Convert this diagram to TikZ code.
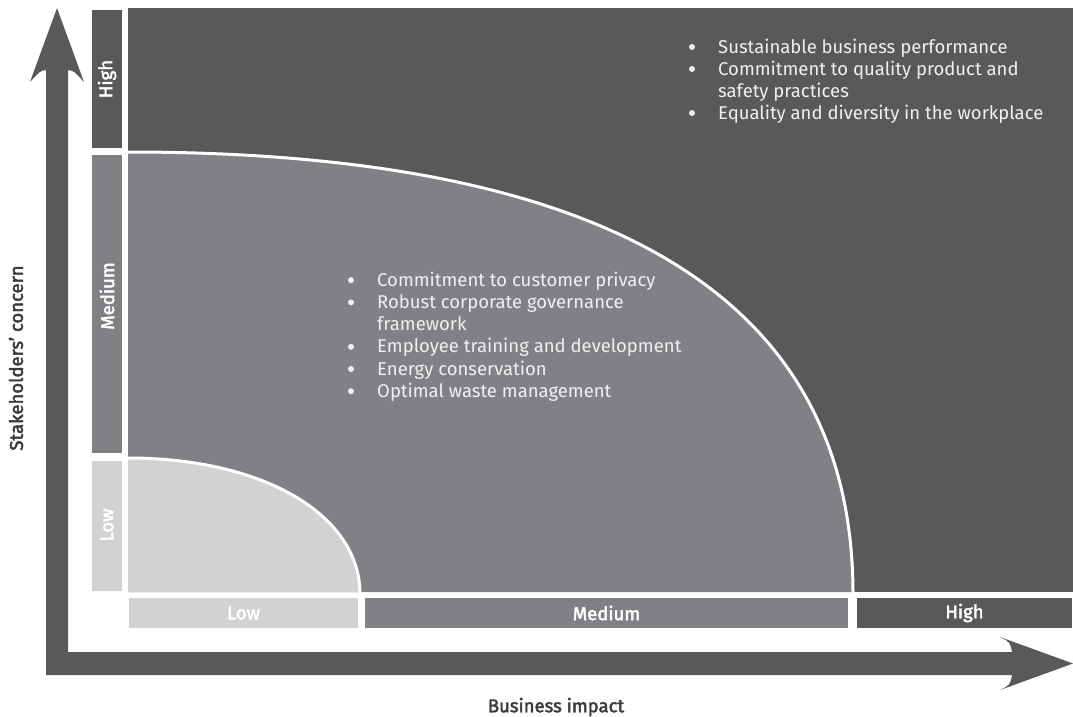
\documentclass[tikz,border=0pt]{standalone}
\usepackage{fontspec}
\setmainfont{Fira Sans}
\newfontfamily\semib[FakeBold=2.5]{Fira Sans}
\definecolor{hi}{HTML}{58595B}
\definecolor{md}{HTML}{808185}
\definecolor{lo}{HTML}{D1D2D4}
\definecolor{txt}{HTML}{F0F0F0}
\definecolor{axt}{HTML}{3A3B3D}
\begin{document}
\begin{tikzpicture}[x=1pt,y=-1pt,box/.style={inner sep=0,minimum width=#1},
  lab/.style={text=white,font=\fontsize{18.5}{20}\semib,inner sep=0},
  ax/.style={text=axt,font=\fontsize{18.5}{20}\semib,inner sep=0},
  item/.style={text=txt,font=\fontsize{18.5}{22}\selectfont,anchor=base west,inner sep=0}]
\useasboundingbox (0,0) rectangle (1073,716);
% axes as one L-shaped arrow
\fill[hi] (46,675) -- (46,70) .. controls (40,71) .. (30,82) -- (57,8) -- (84,82) .. controls (74,71) .. (68,70)
  -- (68,652) -- (1012,652) .. controls (1010,642) .. (1000,637) -- (1073,663.5) -- (1000,690)
  .. controls (1010,685) .. (1012,675) -- cycle;
% matrix regions
\fill[hi] (128,8) rectangle (1073,592);
\fill[md] (128,152) .. controls (611.6,152) and (853,298.5) .. (853,592) -- (128,592) -- cycle;
\draw[white,line width=3pt] (120,152) -- (128,152) .. controls (611.6,152) and (853,298.5) .. (853,594);
\fill[lo] (128,458) .. controls (262.6,458) and (360,514.3) .. (360,592) -- (128,592) -- cycle;
\draw[white,line width=3pt] (128,458) .. controls (262.6,458) and (360,514.3) .. (360,594);
% level boxes
\foreach \n/\c/\y/\h/\ty/\t in {yh/hi/79/138/79/High,ym/md/304/298/296/Medium,yl/lo/526/130/525/Low}{
  \node[box=30,fill=\c,minimum height=\h] (\n) at (107,\y) {};
  \node[lab,rotate=90] (\n t) at (107,\ty) {\t};}
\foreach \n/\c/\x/\w/\t in {xl/lo/243.5/229/Low,xm/md/606.5/483/Medium,xh/hi/964.5/215/High}{
  \node[box=\w,fill=\c,minimum height=30] (\n) at (\x,613) {};
  \node[lab] (\n t) at (\n) {\t};}
\node[ax,rotate=90] (yax) at (16,358) {Stakeholders’ concern};
\node[ax] (xax) at (556,707) {Business impact};
% issue lists
\foreach \b/\t [count=\i] in {1/Sustainable business performance,1/Commitment to quality product and,0/safety practices,1/Equality and diversity in the workplace}{
  \node[item] (h\i) at (718,31+22*\i) {\t};
  \ifnum\b=1 \fill[txt] (692,25+22*\i) circle (3); \fi}
\foreach \b/\t [count=\i] in {1/Commitment to customer privacy,1/Robust corporate governance,0/framework,1/Employee training and development,1/Energy conservation,1/Optimal waste management}{
  \node[item] (m\i) at (377,264+22.2*\i) {\t};
  \ifnum\b=1 \fill[txt] (351,258+22.2*\i) circle (3); \fi}
\end{tikzpicture}
\end{document}
